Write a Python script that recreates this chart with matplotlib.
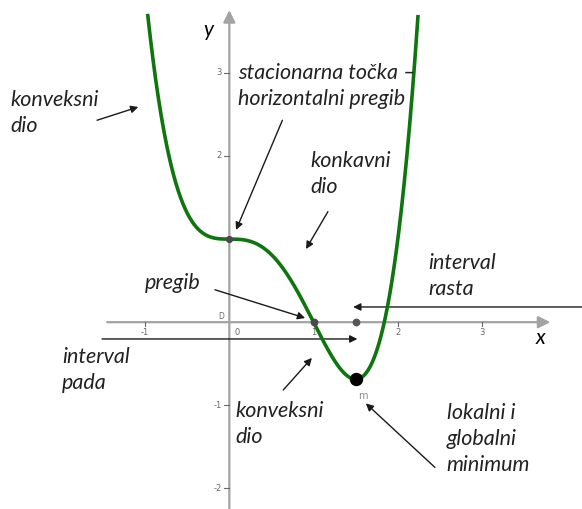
import numpy as np
import matplotlib.pyplot as plt

plt.rcParams['font.family'] = ['Lato', 'DejaVu Sans']

# f(x) = x^4 - 2x^3 + 1
coeffs = [1, -2, 0, 0, 1]
x_start, x_end = -0.97, 2.24

stat_pt = (0.0, 1.0)        # horizontal inflection
infl_pt = (1.0, 0.0)        # inflection
min_pt = (1.5, -0.6875)     # local/global minimum
min_foot = (1.5, 0.0)

x_ticks = [-1, 1, 2, 3]
x_tick_labels = ['-1', '1', '2', '3']
y_ticks = [3, 2, -1, -2]
y_tick_labels = ['3', '2', '-1', '-2']

AXIS_CLR = '#a3a3a3'
CURVE_CLR = '#0f750f'
TICK_CLR = '#6a6a6a'

fig = plt.figure(figsize=(5.82, 5.09), dpi=100)
ax = fig.add_axes([0, 0, 1, 1])
ax.set_xlim(-2.722, 4.186)
ax.set_ylim(-2.248, 3.877)
ax.axis('off')

# coordinate axes with arrow heads
axis_arrow = dict(arrowstyle='-|>', color=AXIS_CLR, lw=1.6, mutation_scale=18,
                  shrinkA=0, shrinkB=0)
ax.annotate('', xy=(3.81, 0), xytext=(-1.45, 0), arrowprops=axis_arrow, zorder=1)
ax.annotate('', xy=(0, 3.755), xytext=(0, -2.30), arrowprops=axis_arrow, zorder=1)

for t, lab in zip(x_ticks, x_tick_labels):
    ax.plot([t, t], [0, -0.045], color=TICK_CLR, lw=0.8, zorder=1)
    ax.text(t, -0.13, lab, fontsize=6, color=TICK_CLR, ha='center', va='center',
            family='DejaVu Sans')
ax.text(0.09, -0.13, '0', fontsize=6, color=TICK_CLR, ha='center', va='center',
        family='DejaVu Sans')
ax.text(-0.1, 0.07, 'D', fontsize=5.5, color=TICK_CLR, ha='center', va='center',
        family='DejaVu Sans')
for t, lab in zip(y_ticks, y_tick_labels):
    ax.plot([-0.06, 0], [t, t], color=TICK_CLR, lw=0.8, zorder=1)
    ax.text(-0.09, t, lab, fontsize=6, color=TICK_CLR, ha='right', va='center',
            family='DejaVu Sans')

ax.text(3.69, -0.19, 'x', fontsize=15, style='italic', ha='center', va='center')
ax.text(-0.25, 3.52, 'y', fontsize=15, style='italic', ha='center', va='center')

# the function graph
xs = np.linspace(x_start, x_end, 600)
ax.plot(xs, np.polyval(coeffs, xs), color=CURVE_CLR, lw=2.6, zorder=3,
        solid_capstyle='butt')

# special points
ax.plot(*stat_pt, 'o', color='#4a4a4a', ms=4.2, zorder=4)
ax.plot(*infl_pt, 'o', color='#4a4a4a', ms=4.6, zorder=4)
ax.plot(*min_foot, 'o', color='#555555', ms=4.6, zorder=4)
ax.plot(*min_pt, 'o', color='black', ms=8.6, zorder=4)
ax.text(min_pt[0] + 0.08, min_pt[1] - 0.2, 'm', fontsize=7, color='#8a8a8a',
        ha='center', va='center', family='DejaVu Sans')

# annotations
txt = dict(fontsize=15.5, style='italic', color='#222222', linespacing=1.38,
           ha='left', va='center')
arr = dict(arrowstyle='-|>', color='#1a1a1a', lw=1.0, mutation_scale=11,
           shrinkA=0, shrinkB=0)

def note(text, tx, ty, start, end):
    ax.text(tx, ty, text, **txt)
    ax.annotate('', xy=end, xytext=start, arrowprops=arr, zorder=2)

note('konveksni\ndio', -2.60, 2.52, (-1.57, 2.43), (-1.08, 2.59))
note('stacionarna točka –\nhorizontalni pregib', 0.10, 2.84,
     (0.63, 2.43), (0.08, 1.11))
note('konkavni\ndio', 0.96, 1.78, (1.17, 1.33), (0.91, 0.88))
note('pregib', -1.0, 0.47, (-0.17, 0.39), (0.90, 0.05))
note('interval\nrasta', 2.36, 0.56, (4.19, 0.183), (min_pt[0] - 0.03, 0.183))
note('interval\npada', -1.985, -0.575, (-1.51, -0.202), (min_pt[0] + 0.02, -0.202))
note('konveksni\ndio', 0.07, -1.225, (0.64, -0.816), (0.98, -0.43))
note('lokalni i\nglobalni\nminimum', 2.58, -1.405, (2.44, -1.747), (1.62, -0.977))

fig.savefig('out.png', dpi=100, facecolor='white')
